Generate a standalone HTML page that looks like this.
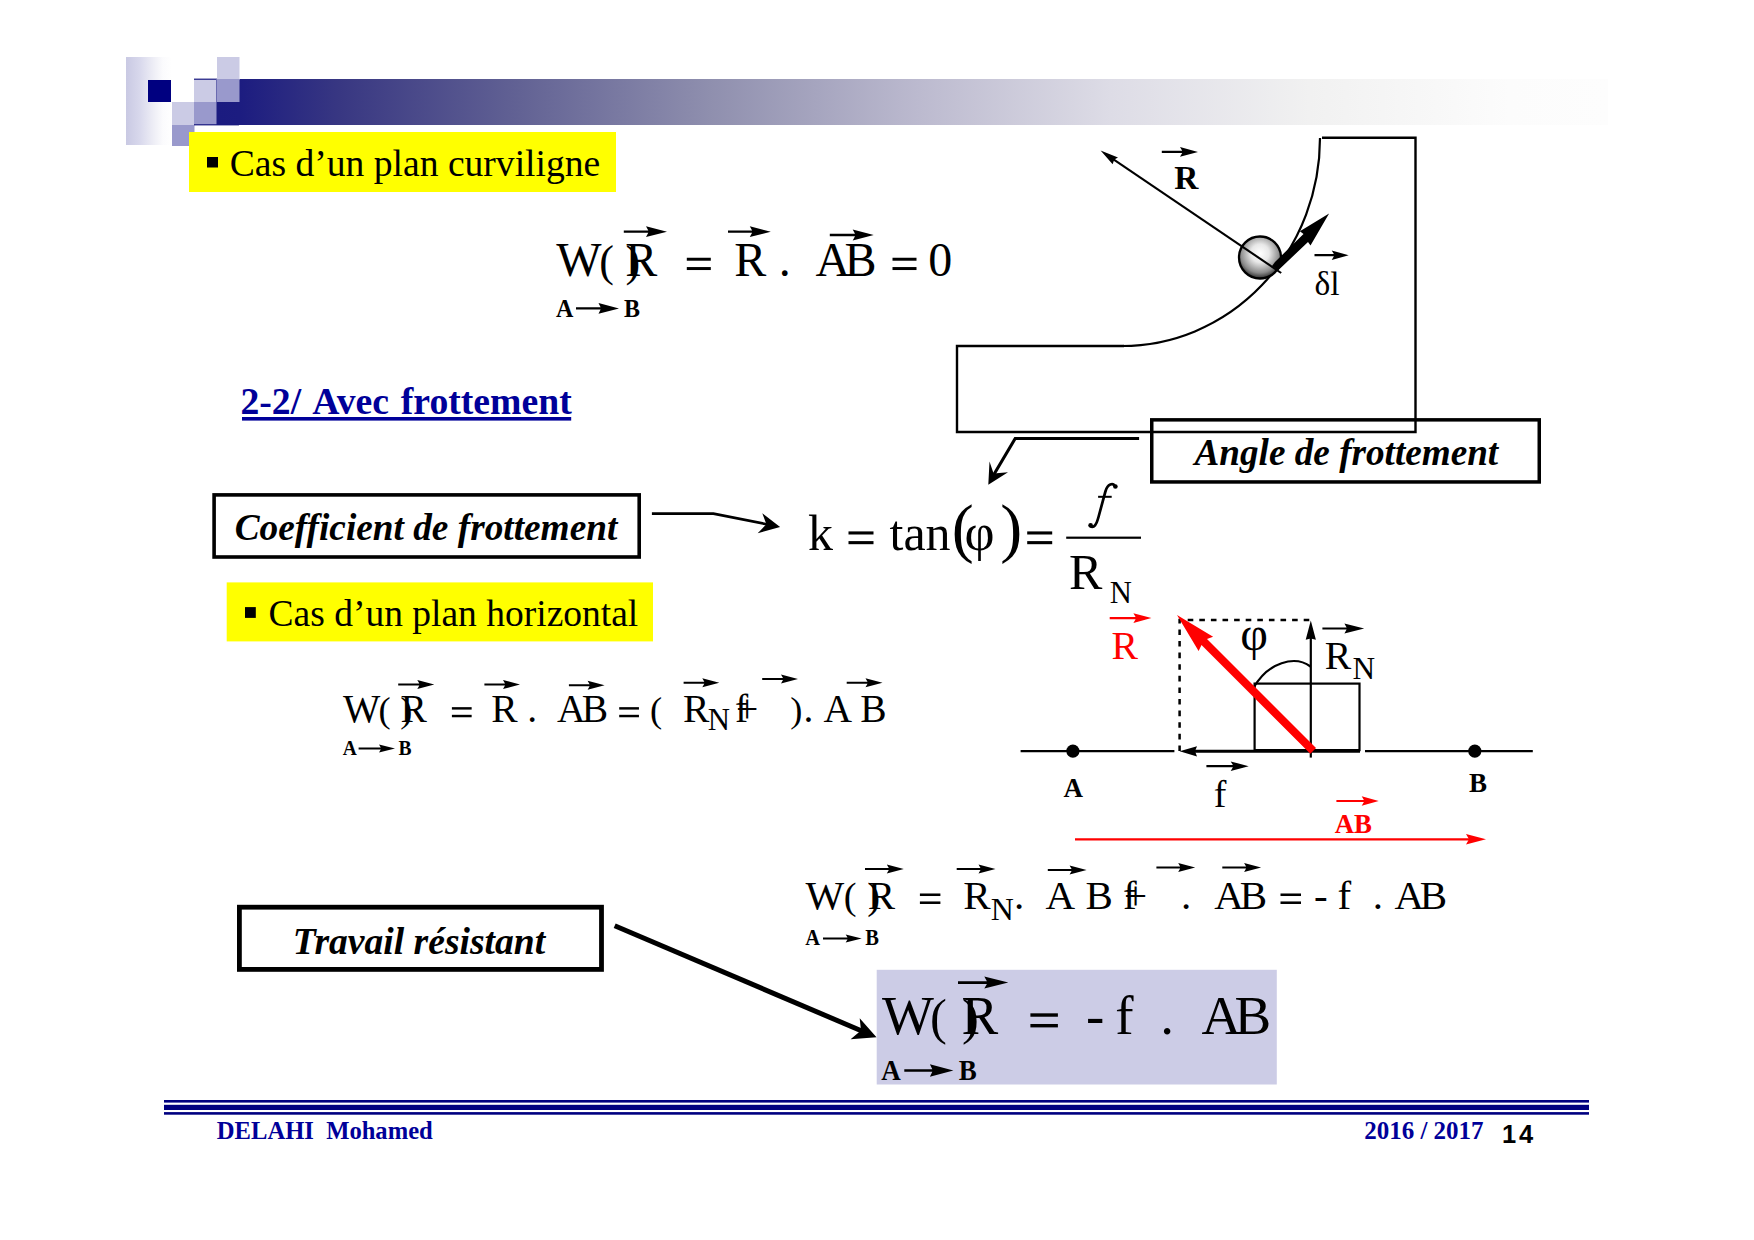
<!DOCTYPE html>
<html><head><meta charset="utf-8"><style>
html,body{margin:0;padding:0;background:#fff;}
body{width:1754px;height:1240px;overflow:hidden;}
svg{display:block;}
text{white-space:pre;}
.r{font-family:"Liberation Serif",serif;}
.b{font-family:"Liberation Serif",serif;font-weight:bold;}
.i{font-family:"Liberation Serif",serif;font-style:italic;}
.bi{font-family:"Liberation Serif",serif;font-weight:bold;font-style:italic;}
.sb{font-family:"Liberation Sans",sans-serif;font-weight:bold;}
</style></head><body>
<svg width="1754" height="1240" viewBox="0 0 1754 1240">
<defs>
<linearGradient id="gcol" x1="0" y1="0" x2="1" y2="0"><stop offset="0" stop-color="#c9c9e3"/><stop offset="0.3" stop-color="#d8d8ec"/><stop offset="0.6" stop-color="#eeeef6"/><stop offset="0.8" stop-color="#fbfbfd"/><stop offset="1" stop-color="#ffffff"/></linearGradient>
<linearGradient id="gbar" gradientUnits="userSpaceOnUse" x1="194" y1="0" x2="1608" y2="0">
<stop offset="0" stop-color="#1a1a80"/>
<stop offset="0.0325" stop-color="#1c1c80"/>
<stop offset="0.103" stop-color="#383782"/>
<stop offset="0.23" stop-color="#626294"/>
<stop offset="0.365" stop-color="#8f8fae"/>
<stop offset="0.513" stop-color="#bcbacf"/>
<stop offset="0.648" stop-color="#dddce6"/>
<stop offset="0.789" stop-color="#f1f1f1"/>
<stop offset="0.930" stop-color="#fcfcfc"/>
<stop offset="1" stop-color="#fdfdfd"/>
</linearGradient>
<radialGradient id="gball" cx="0.5" cy="0.4" r="0.62"><stop offset="0" stop-color="#ffffff"/><stop offset="0.35" stop-color="#e8e8e8"/><stop offset="0.75" stop-color="#8a8a8a"/><stop offset="1" stop-color="#1a1a1a"/></radialGradient>
</defs>
<rect x="126" y="57" width="46" height="88" fill="url(#gcol)"/>
<rect x="194" y="79" width="1414" height="46" fill="url(#gbar)"/>
<rect x="148" y="80" width="23" height="22" fill="#000080"/>
<rect x="217" y="57" width="22.5" height="23" fill="#cbcbe5"/>
<rect x="194" y="79" width="22.5" height="23" fill="#cbcbe5"/>
<rect x="172" y="102" width="22.5" height="23" fill="#cbcbe5"/>
<rect x="217" y="79" width="22.5" height="23" fill="#9999cc"/>
<rect x="194" y="102" width="22.5" height="23" fill="#9999cc"/>
<rect x="172" y="125" width="22.5" height="21" fill="#9999cc"/>
<rect x="194" y="78.6" width="23" height="1.2000000000000028" fill="#1a1a80"/>
<rect x="194" y="124.2" width="45" height="1.2000000000000028" fill="#1a1a80"/>
<rect x="216" y="79" width="1" height="23" fill="#6a6ab0"/>
<rect x="189" y="132" width="427" height="60" fill="#ffff00"/>
<rect x="207" y="157" width="11" height="10.5" fill="#000"/>
<text class="r" x="229.76" y="175.50" font-size="37.6" fill="#000">Cas d’un plan curviligne</text>
<text class="r" x="556.25" y="275.80" font-size="48" fill="#000">W</text>
<text class="r" x="599.17" y="275.80" font-size="44" fill="#000">(</text>
<text class="r" x="625.58" y="275.80" font-size="44" fill="#000">)</text>
<text class="r" x="625.32" y="275.80" font-size="48" fill="#000">R</text>
<rect x="686.80" y="257.75" width="24.00" height="2.98" fill="#000"/>
<rect x="686.80" y="267.06" width="24.00" height="2.98" fill="#000"/>
<text class="r" x="734.32" y="275.80" font-size="48" fill="#000">R</text>
<text class="r" x="778.84" y="275.80" font-size="48" fill="#000">.</text>
<text class="r" x="815.53" y="275.80" font-size="48" fill="#000">A</text>
<text class="r" x="844.62" y="275.80" font-size="48" fill="#000">B</text>
<rect x="892.50" y="257.75" width="24.00" height="2.98" fill="#000"/>
<rect x="892.50" y="267.06" width="24.00" height="2.98" fill="#000"/>
<text class="r" x="928.17" y="275.80" font-size="48" fill="#000">0</text>
<path d="M623.8,230.55 L648.3,230.55 L646.0,226.30 L667.0,231.70 L646.0,237.10 L648.3,232.85 L623.8,232.85 Z" fill="#000"/>
<path d="M728.0,230.55 L752.1,230.55 L749.8,226.30 L770.8,231.70 L749.8,237.10 L752.1,232.85 L728.0,232.85 Z" fill="#000"/>
<path d="M829.8,233.85 L855.0,233.85 L852.7,229.60 L873.7,235.00 L852.7,240.40 L855.0,236.15 L829.8,236.15 Z" fill="#000"/>
<text class="b" transform="translate(556.07,316.80) scale(1.0,1.06)" x="0" y="0" font-size="24" fill="#000">A</text>
<path d="M576.0,307.35 L600.6,307.35 L598.5,303.10 L619.0,308.40 L598.5,313.70 L600.6,309.45 L576.0,309.45 Z" fill="#000"/>
<text class="b" transform="translate(624.10,316.80) scale(1.0,1.06)" x="0" y="0" font-size="24" fill="#000">B</text>
<text class="b" x="240.42" y="414.00" font-size="37.7" fill="#000099">2-2/</text>
<text class="b" x="312.23" y="414.00" font-size="37.7" fill="#000099">Avec</text>
<text class="b" x="400.82" y="414.00" font-size="37.7" fill="#000099">frottement</text>
<rect x="242" y="417" width="329.20000000000005" height="3.6000000000000227" fill="#000099"/>
<rect x="214.10000000000002" y="494.90000000000003" width="425.09999999999997" height="62.09999999999993" fill="none" stroke="#000" stroke-width="3.6"/>
<text class="bi" x="234.73" y="540.10" font-size="37.3" fill="#000">Coefficient de frottement</text>
<polyline points="651.9,513.7 713.4,513.7 768,524.5" fill="none" stroke="#000" stroke-width="2.7"/>
<path d="M780.1,526.9 L762.3,513.2 L766.4,524.3 L757.7,533.3 Z" fill="#000"/>
<text class="r" x="808.05" y="550.20" font-size="50" fill="#000">k</text>
<rect x="848.50" y="531.40" width="25.00" height="3.10" fill="#000"/>
<rect x="848.50" y="541.10" width="25.00" height="3.10" fill="#000"/>
<text class="r" x="889.51" y="550.20" font-size="50" fill="#000">tan</text>
<text class="r" x="951.70" y="550.20" font-size="66" fill="#000">(</text>
<text class="r" x="964.59" y="550.20" font-size="52" fill="#000">φ</text>
<text class="r" x="1000.17" y="550.20" font-size="66" fill="#000">)</text>
<rect x="1027.20" y="531.40" width="25.00" height="3.10" fill="#000"/>
<rect x="1027.20" y="541.10" width="25.00" height="3.10" fill="#000"/>
<path d="M1114.8,486 C1113,483 1107.8,483.3 1105.4,491.5 L1098.5,517 C1096.5,524.5 1094,528.8 1090.2,526.2" fill="none" stroke="#000" stroke-width="2.7" stroke-linecap="round"/>
<circle cx="1115.4" cy="486.5" r="2.3" fill="#000"/>
<circle cx="1090.6" cy="525.3" r="2.3" fill="#000"/>
<rect x="1098.1" y="495.8" width="13.600000000000136" height="2.0" fill="#000"/>
<text class="r" x="1069.06" y="589.20" font-size="50" fill="#000">R</text>
<text class="r" x="1109.72" y="603.00" font-size="30.7" fill="#000">N</text>
<rect x="1066.2" y="536.6" width="74.79999999999995" height="2.199999999999932" fill="#000"/>
<rect x="226.7" y="582.4" width="426.3" height="59.0" fill="#ffff00"/>
<rect x="245" y="607.1" width="10.800000000000011" height="10.799999999999955" fill="#000"/>
<text class="r" x="268.56" y="625.80" font-size="37.5" fill="#000">Cas d’un plan horizontal</text>
<text class="r" x="342.96" y="722.00" font-size="39.5" fill="#000">W</text>
<text class="r" x="378.40" y="722.00" font-size="36.4" fill="#000">(</text>
<text class="r" x="400.33" y="722.00" font-size="36.4" fill="#000">)</text>
<text class="r" x="400.46" y="722.00" font-size="39.5" fill="#000">R</text>
<rect x="451.90" y="707.15" width="19.75" height="2.45" fill="#000"/>
<rect x="451.90" y="714.81" width="19.75" height="2.45" fill="#000"/>
<text class="r" x="491.36" y="722.00" font-size="39.5" fill="#000">R</text>
<text class="r" x="527.30" y="722.00" font-size="39.5" fill="#000">.</text>
<text class="r" x="557.11" y="722.00" font-size="39.5" fill="#000">A</text>
<text class="r" x="581.86" y="722.00" font-size="39.5" fill="#000">B</text>
<rect x="619.20" y="707.15" width="19.75" height="2.45" fill="#000"/>
<rect x="619.20" y="714.81" width="19.75" height="2.45" fill="#000"/>
<text class="r" x="650.10" y="722.00" font-size="36.4" fill="#000">(</text>
<text class="r" x="683.06" y="722.00" font-size="39.5" fill="#000">R</text>
<text class="r" x="707.71" y="729.90" font-size="30.810000000000002" fill="#000">N</text>
<text class="r" x="734.98" y="722.00" font-size="39.5" fill="#000">f</text>
<text class="r" x="736.03" y="722.00" font-size="39.5" fill="#000">+</text>
<text class="r" x="790.33" y="722.00" font-size="36.4" fill="#000">)</text>
<text class="r" x="803.40" y="722.00" font-size="39.5" fill="#000">.</text>
<text class="r" x="823.61" y="722.00" font-size="39.5" fill="#000">A</text>
<text class="r" x="860.26" y="722.00" font-size="39.5" fill="#000">B</text>
<path d="M398.2,683.50 L419.3,683.50 L417.3,680.00 L434.3,684.50 L417.3,689.00 L419.3,685.50 L398.2,685.50 Z" fill="#000"/>
<path d="M484.4,683.50 L505.0,683.50 L503.0,680.00 L520.0,684.50 L503.0,689.00 L505.0,685.50 L484.4,685.50 Z" fill="#000"/>
<path d="M568.9,684.30 L589.6,684.30 L587.6,680.80 L604.6,685.30 L587.6,689.80 L589.6,686.30 L568.9,686.30 Z" fill="#000"/>
<path d="M683.6,681.70 L704.3,681.70 L702.3,678.20 L719.3,682.70 L702.3,687.20 L704.3,683.70 L683.6,683.70 Z" fill="#000"/>
<path d="M762.2,677.90 L783.0,677.90 L781.0,674.40 L798.0,678.90 L781.0,683.40 L783.0,679.90 L762.2,679.90 Z" fill="#000"/>
<path d="M846.7,681.70 L867.5,681.70 L865.5,678.20 L882.5,682.70 L865.5,687.20 L867.5,683.70 L846.7,683.70 Z" fill="#000"/>
<text class="b" transform="translate(342.81,754.90) scale(1.0,1.08)" x="0" y="0" font-size="19.5" fill="#000">A</text>
<path d="M358.6,747.60 L380.8,747.60 L379.0,744.50 L395.0,748.50 L379.0,752.50 L380.8,749.40 L358.6,749.40 Z" fill="#000"/>
<text class="b" transform="translate(398.58,754.90) scale(1.0,1.08)" x="0" y="0" font-size="19.5" fill="#000">B</text>
<rect x="239.4" y="907.1999999999999" width="362.09999999999997" height="62.2" fill="none" stroke="#000" stroke-width="4.8"/>
<text class="bi" x="292.86" y="954.00" font-size="37.6" fill="#000">Travail résistant</text>
<text class="r" x="805.46" y="908.90" font-size="41" fill="#000">W</text>
<text class="r" x="843.81" y="908.90" font-size="38.4" fill="#000">(</text>
<text class="r" x="867.16" y="908.90" font-size="38.4" fill="#000">)</text>
<text class="r" x="867.82" y="908.90" font-size="41" fill="#000">R</text>
<rect x="919.90" y="893.48" width="20.50" height="2.54" fill="#000"/>
<rect x="919.90" y="901.44" width="20.50" height="2.54" fill="#000"/>
<text class="r" x="963.32" y="908.90" font-size="41" fill="#000">R</text>
<text class="r" x="990.68" y="919.90" font-size="31.98" fill="#000">N</text>
<text class="r" x="1014.10" y="908.90" font-size="41" fill="#000">.</text>
<text class="r" x="1045.50" y="908.90" font-size="41" fill="#000">A</text>
<text class="r" x="1085.42" y="908.90" font-size="41" fill="#000">B</text>
<text class="r" x="1122.94" y="908.90" font-size="41" fill="#000">f</text>
<text class="r" x="1123.96" y="908.90" font-size="41" fill="#000">+</text>
<text class="r" x="1180.90" y="908.90" font-size="41" fill="#000">.</text>
<text class="r" x="1214.20" y="908.90" font-size="41" fill="#000">A</text>
<text class="r" x="1239.82" y="908.90" font-size="41" fill="#000">B</text>
<rect x="1280.50" y="893.48" width="20.50" height="2.54" fill="#000"/>
<rect x="1280.50" y="901.44" width="20.50" height="2.54" fill="#000"/>
<text class="r" x="1313.88" y="908.90" font-size="41" fill="#000">-</text>
<text class="r" x="1337.44" y="908.90" font-size="41" fill="#000">f</text>
<text class="r" x="1372.80" y="908.90" font-size="41" fill="#000">.</text>
<text class="r" x="1394.50" y="908.90" font-size="41" fill="#000">A</text>
<text class="r" x="1419.82" y="908.90" font-size="41" fill="#000">B</text>
<path d="M865.0,868.10 L888.8,868.10 L886.8,864.60 L903.8,869.10 L886.8,873.60 L888.8,870.10 L865.0,870.10 Z" fill="#000"/>
<path d="M956.7,868.10 L980.5,868.10 L978.5,864.60 L995.5,869.10 L978.5,873.60 L980.5,870.10 L956.7,870.10 Z" fill="#000"/>
<path d="M1047.8,869.00 L1071.6,869.00 L1069.6,865.50 L1086.6,870.00 L1069.6,874.50 L1071.6,871.00 L1047.8,871.00 Z" fill="#000"/>
<path d="M1156.4,866.40 L1180.2,866.40 L1178.2,862.90 L1195.2,867.40 L1178.2,871.90 L1180.2,868.40 L1156.4,868.40 Z" fill="#000"/>
<path d="M1222.3,866.40 L1246.1,866.40 L1244.1,862.90 L1261.1,867.40 L1244.1,871.90 L1246.1,868.40 L1222.3,868.40 Z" fill="#000"/>
<text class="b" transform="translate(805.30,945.00) scale(1.0,1.08)" x="0" y="0" font-size="20.5" fill="#000">A</text>
<path d="M823.0,937.60 L847.5,937.60 L845.7,934.50 L861.7,938.50 L845.7,942.50 L847.5,939.40 L823.0,939.40 Z" fill="#000"/>
<text class="b" transform="translate(865.26,945.00) scale(1.0,1.08)" x="0" y="0" font-size="20.5" fill="#000">B</text>
<rect x="876.7" y="969.8" width="400.0999999999999" height="114.70000000000005" fill="#ccccE6"/>
<text class="r" x="881.95" y="1034.00" font-size="55" fill="#000">W</text>
<text class="r" x="929.88" y="1034.00" font-size="50.6" fill="#000">(</text>
<text class="r" x="961.97" y="1034.00" font-size="50.6" fill="#000">)</text>
<text class="r" x="961.52" y="1034.00" font-size="55" fill="#000">R</text>
<rect x="1030.40" y="1013.32" width="27.50" height="3.41" fill="#000"/>
<rect x="1030.40" y="1023.99" width="27.50" height="3.41" fill="#000"/>
<text class="r" x="1085.96" y="1034.00" font-size="55" fill="#000">-</text>
<text class="r" x="1115.31" y="1034.00" font-size="55" fill="#000">f</text>
<text class="r" x="1160.37" y="1034.00" font-size="55" fill="#000">.</text>
<text class="r" x="1201.46" y="1034.00" font-size="55" fill="#000">A</text>
<text class="r" x="1234.42" y="1034.00" font-size="55" fill="#000">B</text>
<path d="M958.0,981.30 L986.9,981.30 L984.3,976.60 L1008.3,982.60 L984.3,988.60 L986.9,983.90 L958.0,983.90 Z" fill="#000"/>
<text class="b" transform="translate(881.34,1079.60) scale(1.0,1.08)" x="0" y="0" font-size="27" fill="#000">A</text>
<path d="M904.3,1069.30 L932.3,1069.30 L929.9,1064.30 L953.4,1070.50 L929.9,1076.70 L932.3,1071.70 L904.3,1071.70 Z" fill="#000"/>
<text class="b" transform="translate(958.85,1079.60) scale(1.0,1.08)" x="0" y="0" font-size="27" fill="#000">B</text>
<line x1="614.7" y1="925.7" x2="863" y2="1031.5" stroke="#000" stroke-width="5"/>
<path d="M876.5,1037.3 L859.7,1018.3 L861,1030.6 L850.6,1039.3 Z" fill="#000"/>
<path d="M1322,137.7 L1415.5,137.7 L1415.5,432 L957,432 L957,346 L1124,346" fill="none" stroke="#000" stroke-width="2.4"/>
<path d="M1122,346 A198,208 0 0 0 1320,138" fill="none" stroke="#000" stroke-width="2.2"/>
<circle cx="1260" cy="257.5" r="21" fill="url(#gball)" stroke="#000" stroke-width="2.3"/>
<line x1="1112" y1="158.3" x2="1281.2" y2="273" stroke="#000" stroke-width="2.1"/>
<path d="M1100.6,150.5 L1118,157.4 L1114.3,159.4 L1112.6,164.2 Z" fill="#000"/>
<path d="M1161.8,150.80 L1182.2,150.80 L1180.0,147.10 L1198.0,151.90 L1180.0,156.70 L1182.2,153.00 L1161.8,153.00 Z" fill="#000"/>
<text class="b" x="1174.23" y="188.80" font-size="33.4" fill="#000">R</text>
<path d="M1272,266 L1278,270.5 L1308,242 L1310.5,245.5 L1329.1,213.5 L1299.9,231.3 L1303.5,234 L1275,262 Z" fill="#000"/>
<path d="M1314.5,254.10 L1333.9,254.10 L1331.7,250.50 L1348.7,255.20 L1331.7,259.90 L1333.9,256.30 L1314.5,256.30 Z" fill="#000"/>
<text class="r" x="1314.54" y="294.70" font-size="33.5" fill="#000">δl</text>
<rect x="1151.75" y="419.85" width="387.5" height="62.099999999999966" fill="none" stroke="#000" stroke-width="3.5"/>
<text class="bi" x="1194.53" y="465.00" font-size="37.2" fill="#000">Angle de frottement</text>
<polyline points="1139.1,438.5 1015.2,438.5 993,476" fill="none" stroke="#000" stroke-width="3.1"/>
<path d="M988.3,484.7 L989.5,461.6 L993.6,473.4 L1008,472.3 Z" fill="#000"/>
<line x1="1020.6" y1="751.1" x2="1174.4" y2="751.1" stroke="#000" stroke-width="2.2"/>
<line x1="1365" y1="751.1" x2="1532.8" y2="751.1" stroke="#000" stroke-width="2.2"/>
<circle cx="1072.9" cy="751.1" r="6.6" fill="#000"/>
<circle cx="1474.8" cy="751.1" r="6.6" fill="#000"/>
<text class="b" x="1063.54" y="797.00" font-size="27" fill="#000">A</text>
<text class="b" x="1468.95" y="791.90" font-size="27" fill="#000">B</text>
<path d="M1179.6,751 L1179.6,619.9 L1312,619.9" fill="none" stroke="#000" stroke-width="2.5" stroke-dasharray="5.6,6"/>
<rect x="1254.6" y="683.6" width="104.9" height="66.5" fill="none" stroke="#000" stroke-width="2.2"/>
<line x1="1195" y1="751.2" x2="1360" y2="751.2" stroke="#000" stroke-width="3"/>
<path d="M1179.6,751.3 L1197,746.2 L1195,751.3 L1197,756.4 Z" fill="#000"/>
<line x1="1310.8" y1="638" x2="1310.8" y2="757.6" stroke="#000" stroke-width="2.2"/>
<path d="M1310.8,620.6 L1315.9,639.8 L1310.8,638.4 L1305.7,639.8 Z" fill="#000"/>
<path d="M1253.2,688.4 C1268,662 1295,655 1310.5,666.5" fill="none" stroke="#000" stroke-width="2.2"/>
<text class="r" x="1240.15" y="650.20" font-size="48" fill="#000">φ</text>
<path d="M1177,614.9 L1213.1,636.7 L1207,639.1 L1316,748.1 L1310.3,753.8 L1201.5,645 L1198.6,651 Z" fill="#ff0000"/>
<text class="r" x="1111.56" y="658.90" font-size="39.7" fill="#ff0000">R</text>
<path d="M1109.7,617.00 L1135.6,617.00 L1133.4,613.30 L1151.4,618.10 L1133.4,622.90 L1135.6,619.20 L1109.7,619.20 Z" fill="#ff0000"/>
<text class="r" x="1324.76" y="668.50" font-size="39.7" fill="#000">R</text>
<text class="r" x="1352.40" y="678.80" font-size="31.3" fill="#000">N</text>
<path d="M1322.4,627.40 L1346.6,627.40 L1344.4,623.40 L1364.2,628.50 L1344.4,633.60 L1346.6,629.60 L1322.4,629.60 Z" fill="#000"/>
<text class="r" x="1213.73" y="807.00" font-size="38" fill="#000">f</text>
<path d="M1206.4,765.10 L1232.9,765.10 L1230.7,761.40 L1248.7,766.20 L1230.7,771.00 L1232.9,767.30 L1206.4,767.30 Z" fill="#000"/>
<text class="b" x="1334.64" y="833.30" font-size="26.8" fill="#ff0000">AB</text>
<path d="M1336.4,799.90 L1363.9,799.90 L1361.7,796.20 L1378.7,801.00 L1361.7,805.80 L1363.9,802.10 L1336.4,802.10 Z" fill="#ff0000"/>
<line x1="1075" y1="839.3" x2="1470" y2="839.3" stroke="#ff0000" stroke-width="2.2"/>
<path d="M1486,839.3 L1466,834 L1469,839.3 L1466,844.6 Z" fill="#ff0000"/>
<rect x="164" y="1100" width="1425" height="2.599999999999909" fill="#000080"/>
<rect x="164" y="1104.8" width="1425" height="5.2000000000000455" fill="#000080"/>
<rect x="164" y="1112.1" width="1425" height="2.6000000000001364" fill="#000080"/>
<text class="b" x="216.87" y="1139.30" font-size="24.6" fill="#000099">DELAHI  Mohamed</text>
<text class="b" x="1364.15" y="1138.90" font-size="25" fill="#000099">2016 / 2017</text>
<text class="sb" x="1501.89" y="1142.80" font-size="25.5" fill="#000">1</text>
<text class="sb" x="1519.11" y="1142.80" font-size="25.5" fill="#000">4</text>
</svg>
</body></html>
